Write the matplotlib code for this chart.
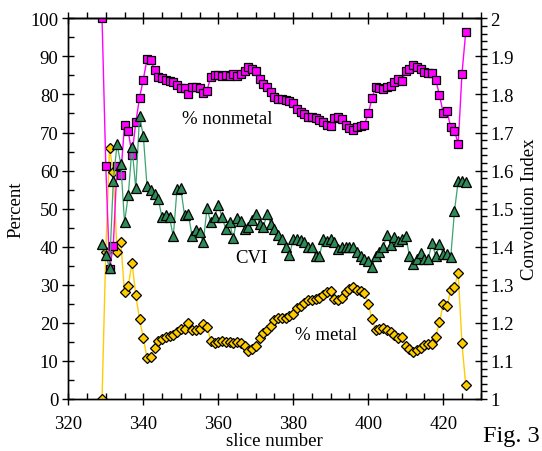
import matplotlib
matplotlib.use("Agg")
import matplotlib.pyplot as plt
from matplotlib.ticker import MultipleLocator, FuncFormatter

slices = list(range(329, 427))

nonmetal = [100.0, 61.3, 34.1, 40.3, 61.3, 58.8, 72.0, 70.3, 64.2, 72.7,
            79.1, 83.9, 89.3, 89.0, 86.5, 84.7, 84.3, 83.8, 83.4, 83.3,
            82.5, 81.6, 81.6, 80.1, 82.0, 82.0, 81.6, 80.3, 81.0, 84.7,
            85.2, 85.0, 84.8, 85.0, 84.9, 85.4, 84.9, 85.3, 86.2, 87.3,
            86.8, 86.2, 84.1, 82.7, 81.9, 80.7, 79.2, 78.8, 78.8, 78.6,
            78.2, 77.7, 76.2, 75.5, 74.9, 74.0, 74.0, 73.8, 73.4, 72.7,
            72.0, 71.6, 73.7, 74.0, 73.5, 72.0, 71.1, 70.7, 71.4, 71.6,
            72.1, 75.0, 79.0, 82.0, 81.6, 81.4, 81.9, 82.3, 83.2, 84.1,
            83.6, 86.2, 86.8, 87.7, 87.1, 86.7, 85.8, 85.6, 85.6, 83.8,
            79.9, 75.1, 75.7, 71.4, 70.5, 67.0, 85.4, 96.3]

metal = [0.0, 38.7, 65.9, 59.7, 38.7, 41.2, 28.0, 29.7, 35.8, 27.3,
         20.9, 16.1, 10.7, 11.0, 13.5, 15.3, 15.7, 16.2, 16.6, 16.7,
         17.5, 18.4, 18.4, 19.9, 18.0, 18.0, 18.4, 19.7, 19.0, 15.3,
         14.8, 15.0, 15.2, 15.0, 15.1, 14.6, 15.1, 14.7, 13.8, 12.7,
         13.2, 13.8, 15.9, 17.3, 18.1, 19.3, 20.8, 21.2, 21.2, 21.4,
         21.8, 22.3, 23.8, 24.5, 25.1, 26.0, 26.0, 26.2, 26.6, 27.3,
         28.0, 28.4, 26.3, 26.0, 26.5, 28.0, 28.9, 29.3, 28.6, 28.4,
         27.9, 25.0, 21.0, 18.0, 18.4, 18.6, 18.1, 17.7, 16.8, 15.9,
         16.4, 13.8, 13.2, 12.3, 12.9, 13.3, 14.2, 14.4, 14.4, 16.2,
         20.1, 24.9, 24.3, 28.6, 29.5, 33.0, 14.6, 3.7]

cvi = [1.407, 1.378, 1.343, 1.573, 1.670, 1.617, 1.464, 1.536, 1.661, 1.553,
       1.743, 1.692, 1.559, 1.548, 1.538, 1.525, 1.477, 1.483, 1.477, 1.427,
       1.552, 1.553, 1.483, 1.486, 1.429, 1.445, 1.438, 1.412, 1.501, 1.464,
       1.477, 1.510, 1.477, 1.447, 1.464, 1.422, 1.476, 1.468, 1.447, 1.451,
       1.470, 1.486, 1.460, 1.451, 1.486, 1.460, 1.447, 1.430, 1.420, 1.398,
       1.378, 1.420, 1.420, 1.418, 1.412, 1.398, 1.398, 1.376, 1.376, 1.420,
       1.416, 1.420, 1.412, 1.394, 1.398, 1.398, 1.398, 1.398, 1.385, 1.376,
       1.368, 1.363, 1.346, 1.376, 1.387, 1.398, 1.431, 1.405, 1.425, 1.416,
       1.420, 1.428, 1.376, 1.355, 1.368, 1.384, 1.368, 1.368, 1.410, 1.376,
       1.407, 1.381, 1.381, 1.372, 1.493, 1.573, 1.573, 1.569]

plt.rcParams['font.family'] = ['Liberation Serif', 'DejaVu Serif']
FS = 13.5

fig = plt.figure(figsize=(5.42, 4.52), dpi=100)
ax = fig.add_axes([68.3 / 542, 1 - 400 / 452, (480.7 - 68.3) / 542, (400 - 19.3) / 452])
ax2 = ax.twinx()

MAG = '#ff00ff'
GOLD = '#ffcc00'
GREEN_F = '#2e8b57'
GREEN_L = '#3aa56e'

ax.plot(slices, metal, color=GOLD, lw=1.0, marker='D', ms=5.2,
        mfc=GOLD, mec='black', mew=0.9, zorder=3)
ax.plot(slices, nonmetal, color=MAG, lw=1.0, marker='s', ms=6.0,
        mfc=MAG, mec='black', mew=0.9, zorder=4)
ax2.plot(slices, cvi, color=GREEN_L, lw=0.9, marker='^', ms=6.5,
         mfc=GREEN_F, mec='black', mew=0.9, zorder=5)

ax.set_xlim(320, 430)
ax.set_ylim(0, 100)
ax2.set_ylim(1, 2)

ax.xaxis.set_major_locator(MultipleLocator(20))
ax.xaxis.set_minor_locator(MultipleLocator(5))
ax.yaxis.set_major_locator(MultipleLocator(10))
ax.yaxis.set_minor_locator(MultipleLocator(5))
ax2.yaxis.set_major_locator(MultipleLocator(0.1))
ax2.yaxis.set_minor_locator(MultipleLocator(0.02))

ax.tick_params(axis='x', which='major', direction='inout', length=8, width=1,
               labelsize=FS, pad=7.5, top=False)
ax.tick_params(axis='x', which='minor', direction='in', length=4, width=1, top=False)
ax.tick_params(axis='y', which='major', direction='inout', length=8, width=1,
               labelsize=FS, pad=3)
ax.tick_params(axis='y', which='minor', direction='in', length=4, width=1)
ax2.tick_params(axis='y', which='major', direction='inout', length=8, width=1,
                labelsize=FS, pad=3)
ax2.tick_params(axis='y', which='minor', direction='out', length=4, width=1)
ax2.yaxis.set_major_formatter(FuncFormatter(
    lambda v, p: '1' if abs(v - 1) < 1e-6 else ('2' if abs(v - 2) < 1e-6 else f'{v:.1f}')))

sec = ax.secondary_xaxis('top')
sec.xaxis.set_major_locator(MultipleLocator(20))
sec.xaxis.set_minor_locator(MultipleLocator(5))
sec.tick_params(axis='x', which='major', direction='inout', length=8, width=1, labeltop=False)
sec.tick_params(axis='x', which='minor', direction='out', length=4, width=1)
sec.spines['top'].set_linewidth(1.0)

for a in (ax, ax2):
    for s in a.spines.values():
        s.set_linewidth(1.0)

ax.set_xlabel('slice number', fontsize=FS, labelpad=0)
ax.set_ylabel('Percent', fontsize=FS, labelpad=4)
ax2.set_ylabel('Convolution Index', fontsize=FS, labelpad=5)

fig.text(227 / 542, 1 - 120 / 452, '% nonmetal', fontsize=FS, ha='center', va='center')
fig.text(251 / 542, 1 - 259 / 452, 'CVI', fontsize=FS, ha='center', va='center')
fig.text(326 / 542, 1 - 336 / 452, '% metal', fontsize=FS, ha='center', va='center')
fig.text(511 / 542, 1 - 437 / 452, 'Fig. 3', fontsize=17.5, ha='center', va='center')

fig.savefig('out.png', dpi=100)
